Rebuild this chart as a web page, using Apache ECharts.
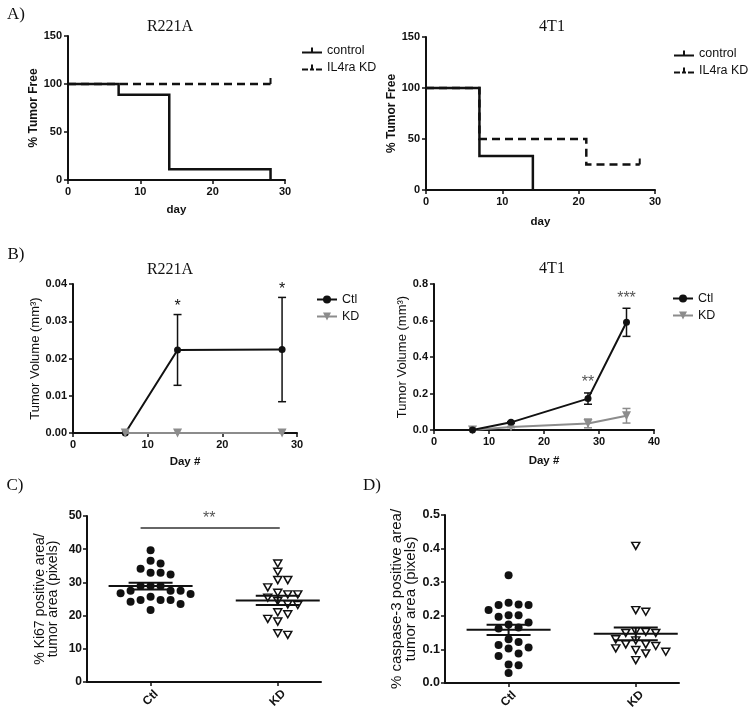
<!DOCTYPE html>
<html><head><meta charset="utf-8">
<script src="https://cdn.jsdelivr.net/npm/echarts@6/dist/echarts.min.js"></script>
<style>html,body{margin:0;padding:0;background:#fff}#c{width:752px;height:719px}</style>
</head><body><div id="c"></div>
<script>
// ---------- DATA ----------
// A) Kaplan-Meier, % tumor free
const survR221ACtlDays = [0, 7, 14, 28];
const survR221ACtl     = [100, 88.9, 11.1, 0];
const survR221AKdDays  = [0, 28];
const survR221AKd      = [100, 100];
const survR221AKdCens  = [false, true];
const surv4T1CtlDays   = [0, 7, 14];
const surv4T1Ctl       = [100, 33.3, 0];
const surv4T1KdDays    = [0, 7, 21, 28];
const surv4T1Kd        = [100, 50, 25, 25];
const surv4T1KdCens    = [false, false, false, true];
// B) tumor volume
const volR221ADays = [7, 14, 28];
const volR221ACtl  = [0, 0.0223, 0.0224];
const semR221ACtl  = [0, 0.0095, 0.0140];
const volR221AKd   = [0, 0, 0];
const semR221AKd   = [0, 0, 0];
const sigR221A     = ['', '*', '*'];
const vol4T1Days = [7, 14, 28, 35];
const vol4T1Ctl  = [0, 0.042, 0.172, 0.590];
const sem4T1Ctl  = [0, 0.004, 0.031, 0.077];
const vol4T1Kd   = [0, 0.016, 0.036, 0.078];
const sem4T1Kd   = [0, 0.003, 0.024, 0.040];
const sig4T1     = ['', '', '**', '***'];
// C) Ki67, D) caspase-3
const groups = ['Ctl', 'KD'];
const ki67Ctl = [39.7, 36.5, 35.7, 34.1, 32.9, 32.4, 32.9, 28.9, 28.9, 28.9, 27.5, 27.5, 27.5, 26.7, 24.7, 25.7, 24.2, 24.7, 26.5, 23.5, 24.7, 21.7];
const ki67Kd  = [35.7, 33.2, 30.7, 30.7, 28.5, 26.4, 26.4, 26.9, 25.4, 24.4, 23.4, 23.2, 21.0, 20.4, 19.0, 18.2, 14.2, 14.7];
const ki67SigY = 46.4, ki67SigLabel = '**';
const caspCtl = [0.321, 0.239, 0.232, 0.232, 0.234, 0.217, 0.202, 0.197, 0.202, 0.180, 0.174, 0.162, 0.165, 0.130, 0.122, 0.106, 0.113, 0.103, 0.088, 0.080, 0.055, 0.053, 0.030];
const caspKd  = [0.408, 0.217, 0.212, 0.152, 0.149, 0.149, 0.154, 0.127, 0.115, 0.110, 0.115, 0.130, 0.093, 0.103, 0.088, 0.098, 0.068];

// ---------- STYLE / LAYOUT ----------
const FONT = 'Liberation Sans, Arial, sans-serif';
const SERIF = 'Liberation Serif, Times New Roman, serif';
const INK = '#111111';
const GREY = '#8c8c8c';
const grids = [
  {left: 68,  top: 36,  width: 217, height: 144},
  {left: 426, top: 37,  width: 229, height: 153},
  {left: 73,  top: 284, width: 224, height: 149},
  {left: 434, top: 284, width: 220, height: 146},
  {left: 87,  top: 516, width: 234, height: 166},
  {left: 445, top: 515, width: 234, height: 168}
];
const yRanges = [[0,150,50],[0,150,50],[0,0.04,0.01],[0,0.8,0.2],[0,50,10],[0,0.5,0.1]];

const zip = (a, b) => a.map((x, i) => [x, b[i]]);
const mean = a => a.reduce((s, v) => s + v, 0) / a.length;
const sem = a => { const m = mean(a); return Math.sqrt(a.reduce((s, v) => s + (v - m) * (v - m), 0) / (a.length - 1)) / Math.sqrt(a.length); };

function xAxis(i, o) {
  return Object.assign({
    gridIndex: i, type: 'value',
    axisLine: {show: true, onZero: false, lineStyle: {color: INK, width: 2}},
    axisTick: {show: true, length: 4, lineStyle: {color: INK, width: 1.5}},
    axisLabel: {color: INK, fontFamily: FONT, fontWeight: 'bold', fontSize: 11, margin: 6},
    splitLine: {show: false},
    nameLocation: 'middle',
    nameTextStyle: {color: INK, fontFamily: FONT, fontWeight: 'bold', fontSize: 11.5}
  }, o);
}
function yAxis(i, o) {
  const r = yRanges[i];
  return Object.assign({
    gridIndex: i, type: 'value', min: r[0], max: r[1], interval: r[2],
    axisLine: {show: true, onZero: false, lineStyle: {color: INK, width: 2}},
    axisTick: {show: true, length: 4, lineStyle: {color: INK, width: 1.5}},
    axisLabel: {color: INK, fontFamily: FONT, fontWeight: 'bold', fontSize: 11, margin: 6},
    splitLine: {show: false},
    nameLocation: 'middle',
    nameTextStyle: {color: INK, fontFamily: FONT, fontSize: 13}
  }, o);
}

// KM series
function kmLine(gi, name, days, vals, dashed, z) {
  return {type: 'line', name, xAxisIndex: gi, yAxisIndex: gi, step: 'end', symbol: 'none', clip: false, z,
    data: zip(days, vals), color: INK, itemStyle: {color: INK},
    lineStyle: {color: INK, width: 2.5, type: dashed ? [8, 5] : 'solid', join: 'miter'}};
}
function censor(gi, days, vals, flags) {
  return {type: 'scatter', xAxisIndex: gi, yAxisIndex: gi, symbol: 'rect', symbolSize: [2, 6], symbolOffset: [0, -3],
    itemStyle: {color: INK, opacity: 1}, silent: true, clip: false, z: 4,
    data: zip(days, vals).filter((p, i) => flags[i])};
}
// volume lines
function volLine(gi, name, days, vals, color, symbol, z) {
  return {type: 'line', name, xAxisIndex: gi, yAxisIndex: gi, clip: false, z,
    data: zip(days, vals), symbol, symbolSize: symbol === 'circle' ? 7 : 9, symbolRotate: symbol === 'triangle' ? 180 : 0,
    color, itemStyle: {color, opacity: 1}, lineStyle: {color, width: 2}};
}
function errBars(gi, days, m, s, color, sig, sigColor, sigGap) {
  return {type: 'custom', xAxisIndex: gi, yAxisIndex: gi, z: 6, silent: true, clip: false,
    data: days.map((d, i) => [d, m[i], s[i]]),
    renderItem(params, api) {
      const i = params.dataIndex, x = api.value(0), mv = api.value(1), sv = api.value(2);
      const top = api.coord([x, mv + sv]), bot = api.coord([x, Math.max(mv - sv, 0)]);
      const kids = [];
      if (sv > 0) {
        const st = {stroke: color, lineWidth: 1.5};
        kids.push({type: 'line', shape: {x1: top[0], y1: top[1], x2: bot[0], y2: bot[1]}, style: st});
        kids.push({type: 'line', shape: {x1: top[0] - 4, y1: top[1], x2: top[0] + 4, y2: top[1]}, style: st});
        kids.push({type: 'line', shape: {x1: bot[0] - 4, y1: bot[1], x2: bot[0] + 4, y2: bot[1]}, style: st});
      }
      if (sig && sig[i]) kids.push({type: 'text', style: {text: sig[i], x: top[0], y: top[1] - sigGap,
        align: 'center', verticalAlign: 'bottom', fill: sigColor, fontSize: 16, fontFamily: FONT}});
      return {type: 'group', children: kids};
    }};
}
// beeswarm offsets (px) from values
function swarm(values, pxPerUnit, step, gap) {
  const order = values.map((v, i) => i).sort((a, b) => values[b] - values[a]);
  const placed = [], offs = new Array(values.length);
  order.forEach(i => {
    const y = values[i] * pxPerUnit;
    for (let k = 0; ; k++) {
      const col = k === 0 ? 0 : (k % 2 ? (k + 1) / 2 : -k / 2);
      if (placed.every(p => p.col !== col || Math.abs(p.y - y) >= gap)) { placed.push({col, y}); offs[i] = col * step; break; }
    }
  });
  return offs;
}
function dots(gi, gIdx, values, hollow) {
  const ppu = grids[gi].height / (yRanges[gi][1] - yRanges[gi][0]);
  const offs = swarm(values, ppu, 10, 8.2);
  return {type: 'scatter', xAxisIndex: gi, yAxisIndex: gi, z: 2, clip: false,
    symbol: hollow ? 'triangle' : 'circle', symbolSize: hollow ? [8, 7] : 8, symbolRotate: hollow ? 180 : 0,
    itemStyle: hollow ? {color: '#fff', borderColor: INK, borderWidth: 1.5, opacity: 1} : {color: INK, opacity: 1},
    data: values.map((v, i) => ({value: [gIdx + 1, v], symbolOffset: [offs[i], 0]}))};
}
function meanSem(gi, sets) {
  return {type: 'custom', xAxisIndex: gi, yAxisIndex: gi, z: 5, silent: true, clip: false,
    data: sets.map((a, i) => [i + 1, mean(a), sem(a)]),
    renderItem(params, api) {
      const x = api.value(0), m = api.value(1), s = api.value(2);
      const c = api.coord([x, m]), t = api.coord([x, m + s]), b = api.coord([x, m - s]);
      const st = {stroke: INK, lineWidth: 2};
      return {type: 'group', children: [
        {type: 'line', shape: {x1: c[0] - 42, y1: c[1], x2: c[0] + 42, y2: c[1]}, style: st},
        {type: 'line', shape: {x1: t[0] - 22, y1: t[1], x2: t[0] + 22, y2: t[1]}, style: st},
        {type: 'line', shape: {x1: b[0] - 22, y1: b[1], x2: b[0] + 22, y2: b[1]}, style: st},
        {type: 'line', shape: {x1: t[0], y1: t[1], x2: b[0], y2: b[1]}, style: st}
      ]};
    }};
}
function sigBar(gi, y, label) {
  return {type: 'custom', xAxisIndex: gi, yAxisIndex: gi, z: 5, silent: true, clip: false,
    data: [[1, 2, y]],
    renderItem(params, api) {
      const a = api.coord([api.value(0), api.value(2)]), b = api.coord([api.value(1), api.value(2)]);
      return {type: 'group', children: [
        {type: 'line', shape: {x1: a[0] - 10, y1: a[1], x2: b[0] + 2, y2: b[1]}, style: {stroke: '#333', lineWidth: 1.5}},
        {type: 'text', style: {text: label, x: (a[0] - 10 + b[0]) / 2, y: a[1] - 1, align: 'center', verticalAlign: 'bottom',
          fill: '#555', fontSize: 16, fontFamily: FONT}}
      ]};
    }};
}

const catAxis = (i, o) => xAxis(i, Object.assign({min: 0.5, max: 2.34,
  axisTick: {show: true, length: 4, customValues: [1, 2], lineStyle: {color: INK, width: 1.5}},
  axisLabel: {customValues: [1, 2], formatter: v => groups[v - 1] || '', rotate: 45, align: 'center', verticalAlign: 'middle',
    margin: 16, color: INK, fontFamily: FONT, fontWeight: 'bold', fontSize: 12}}, o));

const kmIconSolid = 'path://M0,4h20v2h-20z M9,0h2v4h-2z';
const kmIconDash = 'path://M0,4h6v2h-6z M8,4h4v2h-4z M14,4h6v2h-6z M9,0h2v4h-2z';
const legendText = {color: INK, fontFamily: FONT, fontSize: 12.5};
const txt = (t, x, y, size, font) => ({type: 'text', x, y, silent: true,
  style: {text: t, fill: INK, fontSize: size, fontFamily: font, align: 'center', verticalAlign: 'middle'}});

const option = {
  animation: false,
  backgroundColor: '#fff',
  grid: grids.map(g => Object.assign({containLabel: false}, g)),
  xAxis: [
    xAxis(0, {min: 0, max: 30, interval: 10, name: 'day', nameGap: 24}),
    xAxis(1, {min: 0, max: 30, interval: 10, name: 'day', nameGap: 26}),
    xAxis(2, {min: 0, max: 30, interval: 10, name: 'Day #', nameGap: 23}),
    xAxis(3, {min: 0, max: 40, interval: 10, name: 'Day #', nameGap: 25}),
    catAxis(4, {}),
    catAxis(5, {})
  ],
  yAxis: [
    yAxis(0, {name: '% Tumor Free', nameGap: 28, nameTextStyle: {color: INK, fontFamily: FONT, fontWeight: 'bold', fontSize: 12}}),
    yAxis(1, {name: '% Tumor Free', nameGap: 28, nameTextStyle: {color: INK, fontFamily: FONT, fontWeight: 'bold', fontSize: 12}}),
    yAxis(2, {name: 'Tumor Volume (mm³)', nameGap: 30, axisLabel: {color: INK, fontFamily: FONT, fontWeight: 'bold', fontSize: 11, margin: 6, formatter: v => v.toFixed(2)}}),
    yAxis(3, {name: 'Tumor Volume (mm³)', nameGap: 22, axisLabel: {color: INK, fontFamily: FONT, fontWeight: 'bold', fontSize: 11, margin: 6, formatter: v => v.toFixed(1)}}),
    yAxis(4, {name: '% Ki67 positive area/\ntumor area (pixels)', nameGap: 28,
      axisLabel: {color: INK, fontFamily: FONT, fontWeight: 'bold', fontSize: 12, margin: 5},
      nameTextStyle: {color: INK, fontFamily: FONT, fontSize: 14, lineHeight: 12.5}}),
    yAxis(5, {name: '% caspase-3 positive area/\ntumor area (pixels)', nameGap: 27,
      axisLabel: {color: INK, fontFamily: FONT, fontWeight: 'bold', fontSize: 12.5, margin: 5, formatter: v => v.toFixed(1)},
      nameTextStyle: {color: INK, fontFamily: FONT, fontSize: 15, lineHeight: 14}})
  ],
  legend: [
    {left: 297, top: 39, orient: 'vertical', itemWidth: 20, itemHeight: 6, itemGap: 4, textStyle: legendText,
      data: [{name: 'control', icon: kmIconSolid}, {name: 'IL4ra KD', icon: kmIconDash}]},
    {left: 669, top: 42, orient: 'vertical', itemWidth: 20, itemHeight: 6, itemGap: 4, textStyle: legendText,
      data: [{name: 'control', icon: kmIconSolid}, {name: 'IL4ra KD', icon: kmIconDash}]},
    {left: 311, top: 288, orient: 'vertical', itemWidth: 20, itemHeight: 10, itemGap: 4, textStyle: legendText, data: ['Ctl', 'KD']},
    {left: 667, top: 287, orient: 'vertical', itemWidth: 20, itemHeight: 10, itemGap: 4, textStyle: legendText, data: ['Ctl', 'KD']}
  ],
  series: [
    kmLine(0, 'IL4ra KD', survR221AKdDays, survR221AKd, true, 2),
    kmLine(0, 'control', survR221ACtlDays, survR221ACtl, false, 3),
    censor(0, survR221AKdDays, survR221AKd, survR221AKdCens),
    kmLine(1, 'IL4ra KD', surv4T1KdDays, surv4T1Kd, true, 2),
    kmLine(1, 'control', surv4T1CtlDays, surv4T1Ctl, false, 3),
    censor(1, surv4T1KdDays, surv4T1Kd, surv4T1KdCens),

    volLine(2, 'Ctl', volR221ADays, volR221ACtl, INK, 'circle', 3),
    volLine(2, 'KD', volR221ADays, volR221AKd, GREY, 'triangle', 4),
    errBars(2, volR221ADays, volR221ACtl, semR221ACtl, INK, sigR221A, INK, 0),
    errBars(2, volR221ADays, volR221AKd, semR221AKd, GREY, null),
    volLine(3, 'KD', vol4T1Days, vol4T1Kd, GREY, 'triangle', 3),
    volLine(3, 'Ctl', vol4T1Days, vol4T1Ctl, INK, 'circle', 4),
    errBars(3, vol4T1Days, vol4T1Ctl, sem4T1Ctl, INK, sig4T1, '#555', 2),
    errBars(3, vol4T1Days, vol4T1Kd, sem4T1Kd, GREY, null),

    dots(4, 0, ki67Ctl, false),
    dots(4, 1, ki67Kd, true),
    meanSem(4, [ki67Ctl, ki67Kd]),
    sigBar(4, ki67SigY, ki67SigLabel),
    dots(5, 0, caspCtl, false),
    dots(5, 1, caspKd, true),
    meanSem(5, [caspCtl, caspKd])
  ],
  graphic: [
    txt('A)', 16, 15, 17, SERIF), txt('B)', 16, 255, 17, SERIF), txt('C)', 15, 486, 17, SERIF), txt('D)', 372, 486, 17, SERIF),
    txt('R221A', 170, 27, 16, SERIF), txt('4T1', 552, 27, 16, SERIF),
    txt('R221A', 170, 270, 16, SERIF), txt('4T1', 552, 269, 16, SERIF)
  ]
};
const chart = echarts.init(document.getElementById('c'), null, {renderer: 'canvas'});
chart.setOption(option);
</script>
</body></html>
